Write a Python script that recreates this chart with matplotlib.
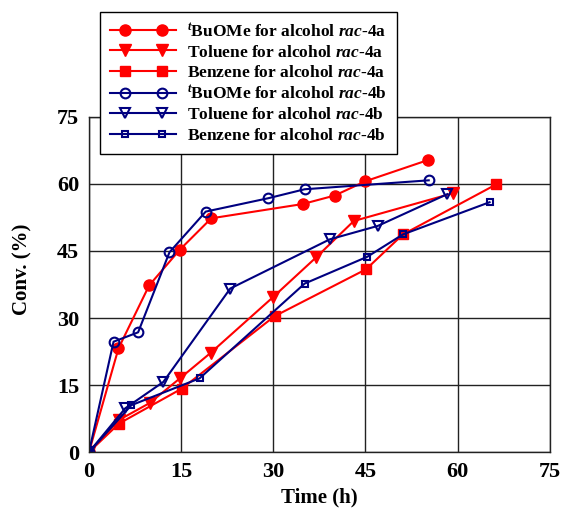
import matplotlib
matplotlib.use('Agg')
import numpy as np
from matplotlib import pyplot
from matplotlib.lines import Line2D
from matplotlib.legend_handler import HandlerLine2D

pyplot.rcParams['font.family'] = ['Liberation Serif', 'DejaVu Serif']
pyplot.rcParams['font.weight'] = 'bold'
pyplot.rcParams['mathtext.fontset'] = 'custom'
pyplot.rcParams['mathtext.rm'] = 'Liberation Serif:bold'
pyplot.rcParams['mathtext.it'] = 'Liberation Serif:italic:bold'
pyplot.rcParams['mathtext.bf'] = 'Liberation Serif:bold'

# Data
t_buome_4a = [0, 4.8, 9.8, 14.8, 19.9, 34.8, 40.0, 45.0, 55.1]
c_buome_4a = [0, 23.2, 37.3, 45.3, 52.3, 55.5, 57.4, 60.6, 65.3]

t_tol_4a = [0, 4.9, 9.9, 14.8, 19.8, 29.9, 37.0, 43.1, 59.2]
c_tol_4a = [0, 7.2, 11.0, 16.5, 22.2, 34.6, 43.6, 51.7, 57.9]

t_benz_4a = [0, 4.9, 15.1, 30.2, 45.1, 51.1, 66.3]
c_benz_4a = [0, 6.4, 14.2, 30.4, 40.9, 48.7, 59.9]

t_buome_4b = [0, 4.0, 8.0, 13.1, 19.0, 29.2, 35.1, 55.3]
c_buome_4b = [0, 24.7, 26.8, 44.7, 53.8, 56.8, 58.8, 60.8]

t_tol_4b = [0, 5.9, 12.1, 23.0, 39.2, 47.0, 58.3]
c_tol_4b = [0, 9.8, 15.7, 36.6, 47.6, 50.6, 57.7]

t_benz_4b = [0, 6.9, 18.0, 35.1, 45.3, 51.1, 65.2]
c_benz_4b = [0, 10.5, 16.5, 37.7, 43.7, 48.7, 55.9]

ticks = [0, 15, 30, 45, 60, 75]

red = '#FF0000'
blue = '#000080'


class InsetMarkers(HandlerLine2D):
    # line runs the full handle width, the two markers sit inside it
    def get_xdata(self, legend, xdescent, ydescent, width, height, fontsize):
        x0 = -xdescent
        xdata = np.array([x0, x0 + 0.22 * width, x0 + 0.78 * width, x0 + width])
        return xdata, xdata

    def create_artists(self, *args, **kwargs):
        artists = super().create_artists(*args, **kwargs)
        for a in artists:
            a.set_markevery([1, 2])
        return artists


fig = pyplot.figure(figsize=(5.61, 5.08), dpi=100)
axes = fig.add_axes([0.1586, 0.110, 0.8214, 0.660])

axes.plot(t_buome_4a, c_buome_4a, color=red, marker='o', markersize=8, lw=1.5,
          label=r'$^{\mathit{t}}$BuOMe for alcohol $\mathit{rac}$-4a')
axes.plot(t_tol_4a, c_tol_4a, color=red, marker='v', markersize=8, lw=1.5,
          label=r'Toluene for alcohol $\mathit{rac}$-4a')
axes.plot(t_benz_4a, c_benz_4a, color=red, marker='s', markersize=7.5, lw=1.5,
          label=r'Benzene for alcohol $\mathit{rac}$-4a')
axes.plot(t_buome_4b, c_buome_4b, color=blue, marker='o', markersize=7, lw=1.5,
          markerfacecolor='none', markeredgewidth=1.5,
          label=r'$^{\mathit{t}}$BuOMe for alcohol $\mathit{rac}$-4b')
axes.plot(t_tol_4b, c_tol_4b, color=blue, marker='v', markersize=7, lw=1.5,
          markerfacecolor='none', markeredgewidth=1.5,
          label=r'Toluene for alcohol $\mathit{rac}$-4b')
axes.plot(t_benz_4b, c_benz_4b, color=blue, marker='s', markersize=5, lw=1.5,
          markerfacecolor='none', markeredgewidth=1.5,
          label=r'Benzene for alcohol $\mathit{rac}$-4b')

axes.set_xlim(0, 75)
axes.set_ylim(0, 75)
axes.set_xticks(ticks)
axes.set_yticks(ticks)
axes.grid(True, color='#222222', linewidth=1.0)
axes.set_axisbelow(True)
axes.tick_params(length=0, labelsize=16, pad=7)
for lab in axes.get_xticklabels() + axes.get_yticklabels():
    lab.set_fontweight('bold')
for sp in axes.spines.values():
    sp.set_linewidth(1.0)
    sp.set_color('#222222')

axes.set_xlabel('Time (h)', fontsize=15, fontweight='bold', labelpad=4)
axes.set_ylabel('Conv. (%)', fontsize=15, fontweight='bold')
axes.yaxis.set_label_coords(-0.122, 0.545)

leg = fig.legend(loc='upper left', bbox_to_anchor=(100 / 561, 1 - 12 / 508),
                 numpoints=2, handlelength=3.8, fontsize=12.5, frameon=True,
                 fancybox=False, edgecolor='black', framealpha=1,
                 borderpad=0.6, labelspacing=0.25, handletextpad=0.6,
                 borderaxespad=0,
                 handler_map={Line2D: InsetMarkers()})
leg.get_frame().set_linewidth(1.0)
for txt in leg.get_texts():
    txt.set_fontweight('bold')

pyplot.savefig('out.png', dpi=100)
